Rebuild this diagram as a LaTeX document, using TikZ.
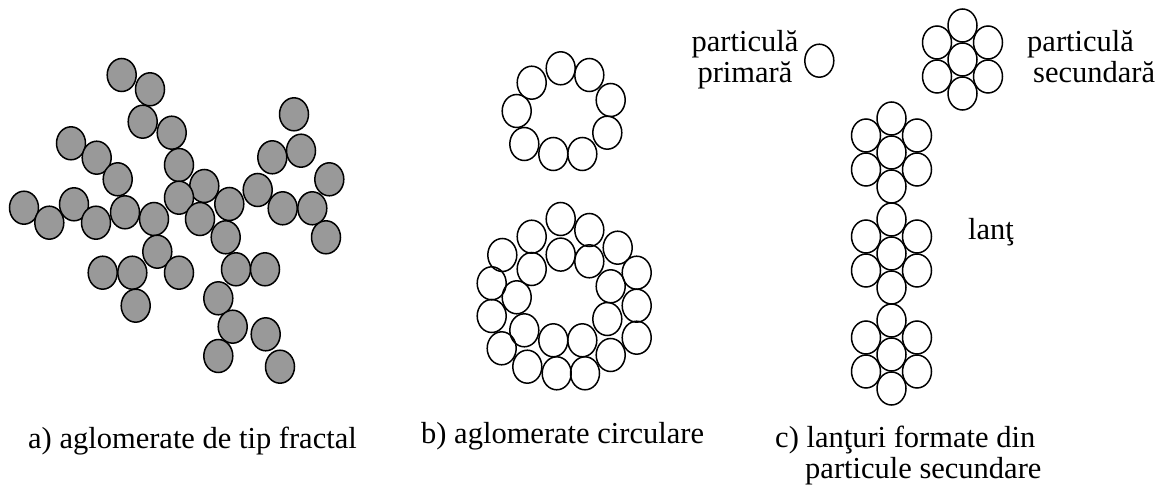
\documentclass[tikz,border=0pt]{standalone}
\usepackage{fontspec}
\setmainfont{Liberation Serif}
\usetikzlibrary{positioning}

\begin{document}
\begin{tikzpicture}[x=1pt,y=-1pt,
  grain/.style={draw=black,line width=1.5pt,fill=black!40},
  hollow/.style={draw=black,line width=1.5pt},
  lbl/.style={inner sep=0pt,font=\fontsize{30.5}{31}\selectfont}]
\useasboundingbox (0,0) rectangle (1165,486);
% a) fractal agglomerate
\foreach \x/\y in {121.7/75,150/89.3,142.7/121.7,171.7/132.7,71/143.3,96.7/157.7,
  179/165,117.7/179.3,294/114.3,301/150.7,272.3/157.3,329.3/179.3,257.7/190,
  204.3/186,179/197.7,229.3/204,282.7/208.3,312.3/208.3,24/207.7,49.3/222.7,
  74/204.3,96/222.7,125/212.3,154/219,200/219,326/237.3,225.7/237.3,157.3/251.7,
  102.7/272.7,132.3/272.7,179/272.7,236/269.3,265/269.3,135.7/305.7,218.3/298.3,
  232.7/326.7,265.7/334.3,218.3/356,280/366.7}{
  \draw[grain] (\x,\y) ellipse [x radius=14.5, y radius=16.5];
}
% b) circular agglomerates: small ring, and the same ring inside a larger one
\foreach \x/\y in {560.7/68.3,589.3/75,610.7/100,607.3/132.7,582.3/154,
  553.3/154,524.3/144,516.7/111,531.7/82.7}{
  \draw[hollow] (\x,\y) ellipse [x radius=14.5, y radius=16.5];
  \draw[hollow] (\x,\y+186.3) ellipse [x radius=14.5, y radius=16.5];
}
\foreach \x/\y in {560.7/219,589.3/230,617.7/247.7,636.7/272.7,636.7/305.7,
  636.7/337.7,610.7/355,585/373.3,556.7/373.3,527.3/366.7,501.7/348.3,
  491.7/316,491.7/283.3,502.3/255,531.7/236.7}{
  \draw[hollow] (\x,\y) ellipse [x radius=14.5, y radius=16.5];
}
% c) primary particle, secondary particle and chain
\draw[hollow] (819.3,60.7) ellipse [x radius=14.5, y radius=16.5];
\foreach \cx/\cy in {962.5/59.5,891.5/152.5,891.5/253.5,891.5/354.5}{
  \foreach \dx/\dy in {0/0,0/-34,0/34,-25.5/-17,25.5/-17,-25.5/17,25.5/17}{
    \draw[hollow,shift={(\cx,\cy)}] (\dx,\dy) ellipse [x radius=14.5, y radius=16.5];
  }
}
\node[lbl,align=center,anchor=base] (primlbl) at (745,83) {particulă\\primară};
\node[lbl,align=left,anchor=base west] (seclbl) at (1027,83) {particulă\\\hspace*{6pt}secundară};
\node[lbl,anchor=base west] (lantlbl) at (968,240) {lanţ};
% captions
\node[lbl,anchor=base west] (capa) at (28,448) {a) aglomerate de tip fractal};
\node[lbl,anchor=base west] (capb) at (421,443) {b) aglomerate circulare};
\node[lbl,align=left,anchor=base west] (capc) at (775,478) {c) lanţuri formate din\\\hspace*{30pt}particule secundare};
\end{tikzpicture}
\end{document}
